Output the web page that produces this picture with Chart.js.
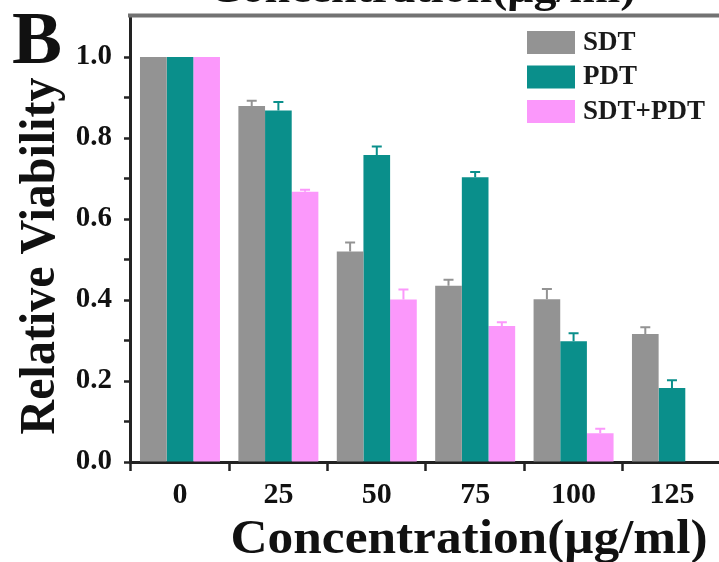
<!DOCTYPE html>
<html><head><meta charset="utf-8">
<script src="https://cdn.jsdelivr.net/npm/chart.js@4"></script>
<style>html,body{margin:0;padding:0;background:#fff;overflow:hidden}</style>
</head><body>
<canvas id="c" width="719" height="562"></canvas>
<script>
const categories = ['0', '25', '50', '75', '100', '125'];
const seriesNames = ['SDT', 'PDT', 'SDT+PDT'];
const sdtValues = [1.0, 0.879, 0.52, 0.435, 0.402, 0.316];
const pdtValues = [1.0, 0.868, 0.758, 0.703, 0.298, 0.183];
const comboValues = [1.0, 0.667, 0.401, 0.336, 0.071, null];
const sdtErrors = [0, 0.013, 0.022, 0.015, 0.025, 0.017];
const pdtErrors = [0, 0.021, 0.021, 0.013, 0.020, 0.019];
const comboErrors = [0, 0.005, 0.025, 0.009, 0.011, 0];
const yTickLabels = ['0.0', '0.2', '0.4', '0.6', '0.8', '1.0'];
const xTitle = 'Concentration(μg/ml)';
const yTitle = 'Relative Viability';
const panelLabel = 'B';

const colors = ['#939393', '#0a8f8b', '#fb98fb'];
const SERIF = "'Liberation Serif', 'Times New Roman', serif";

function toPoints(arr) { return arr.map((v, i) => ({ x: i, y: v })); }

const datasets = [
  { label: seriesNames[0], data: toPoints(sdtValues), values: sdtValues, errors: sdtErrors, backgroundColor: colors[0] },
  { label: seriesNames[1], data: toPoints(pdtValues), values: pdtValues, errors: pdtErrors, backgroundColor: colors[1] },
  { label: seriesNames[2], data: toPoints(comboValues), values: comboValues, errors: comboErrors, backgroundColor: colors[2] }
];

const errorBars = {
  id: 'errorBars',
  afterDatasetsDraw(chart) {
    const ctx = chart.ctx, ys = chart.scales.y;
    chart.data.datasets.forEach((ds, di) => {
      const meta = chart.getDatasetMeta(di);
      meta.data.forEach((el, i) => {
        const v = ds.values[i], e = ds.errors[i];
        if (v == null || !e) return;
        const x = el.x, y0 = el.y, y1 = ys.getPixelForValue(v + e);
        ctx.save();
        ctx.strokeStyle = ds.backgroundColor;
        ctx.lineWidth = 2;
        ctx.beginPath();
        ctx.moveTo(x, y0); ctx.lineTo(x, y1);
        ctx.moveTo(x - 5, y1); ctx.lineTo(x + 5, y1);
        ctx.stroke();
        ctx.restore();
      });
    });
  }
};

const decorations = {
  id: 'decorations',
  afterDraw(chart) {
    const ctx = chart.ctx, ca = chart.chartArea;
    ctx.save();
    // top frame line
    ctx.strokeStyle = '#727272';
    ctx.lineWidth = 4;
    ctx.beginPath();
    ctx.moveTo(ca.left - 2, 15.5); ctx.lineTo(719, 15.5);
    ctx.stroke();
    ctx.fillStyle = '#111';
    // cut-off title from upper panel
    ctx.save();
    ctx.font = 'bold 43px ' + SERIF;
    ctx.textAlign = 'center';
    ctx.textBaseline = 'alphabetic';
    ctx.translate(422, 1.5);
    ctx.scale(1.07, 1);
    ctx.fillText(xTitle, 0, 0);
    ctx.restore();
    // panel letter
    ctx.font = 'bold 75px ' + SERIF;
    ctx.textAlign = 'left';
    ctx.fillText(panelLabel, 12, 63);
    // x title (slightly widened like the reference)
    ctx.save();
    ctx.font = 'bold 48px ' + SERIF;
    ctx.textAlign = 'center';
    ctx.translate(469, 553);
    ctx.scale(1.07, 1);
    ctx.fillText(xTitle, 0, 0);
    ctx.restore();
    // y title
    ctx.save();
    ctx.font = 'bold 48px ' + SERIF;
    ctx.textAlign = 'center';
    ctx.translate(41, 256);
    ctx.rotate(-Math.PI / 2);
    ctx.scale(1, 1.07);
    ctx.textBaseline = 'middle';
    ctx.fillText(yTitle, 0, 0);
    ctx.restore();
    // legend
    ctx.font = 'bold 27px ' + SERIF;
    ctx.textAlign = 'left';
    ctx.textBaseline = 'middle';
    chart.data.datasets.forEach((ds, i) => {
      const top = 31 + i * 34.5;
      ctx.fillStyle = ds.backgroundColor;
      ctx.fillRect(527, top, 48, 23);
      ctx.fillStyle = '#1a1a1a';
      ctx.fillText(ds.label, 583, top + 12);
    });
    ctx.restore();
  }
};

new Chart(document.getElementById('c'), {
  type: 'bar',
  data: { datasets },
  options: {
    responsive: false,
    animation: false,
    devicePixelRatio: 1,
    layout: { padding: { top: 16.5, left: 0, right: 0, bottom: 0 } },
    plugins: { legend: { display: false }, tooltip: { enabled: false }, title: { display: false } },
    datasets: { bar: { categoryPercentage: 0.813, barPercentage: 1.0, borderWidth: 0 } },
    scales: {
      x: {
        type: 'linear',
        min: -0.508,
        max: 5.478,
        offset: false,
        grid: { display: true, drawOnChartArea: false, drawTicks: true, tickLength: 9, tickWidth: 2.5, tickColor: '#222' },
        border: { display: true, color: '#222', width: 3 },
        ticks: {
          stepSize: 1, includeBounds: false, autoSkip: false, maxRotation: 0, minRotation: 0, padding: 6,
          color: '#111', font: { family: SERIF, weight: 'bold', size: 30 },
          callback: v => (Number.isInteger(v) && categories[v] !== undefined) ? categories[v] : ''
        },
        afterFit: s => { s.height = 100; s.paddingLeft = 0; s.paddingRight = 0; }
      },
      y: {
        min: 0,
        max: 1.1,
        grid: {
          display: true, drawOnChartArea: false, drawTicks: true, tickLength: 6, tickWidth: 2.5,
          tickColor: c => (c.tick && c.tick.value > 1.05) ? 'rgba(0,0,0,0)' : '#222'
        },
        border: { display: true, color: '#222', width: 3 },
        ticks: {
          stepSize: 0.1, padding: 12, color: '#111', font: { family: SERIF, weight: 'bold', size: 29 },
          callback: v => { const idx = Math.round(v * 5); return (Math.abs(v * 5 - idx) < 1e-6 && yTickLabels[idx]) ? yTickLabels[idx] : ''; }
        },
        afterFit: s => { s.width = 130; s.paddingTop = 0; s.paddingBottom = 0; }
      }
    }
  },
  plugins: [errorBars, decorations]
});
</script>
</body></html>
